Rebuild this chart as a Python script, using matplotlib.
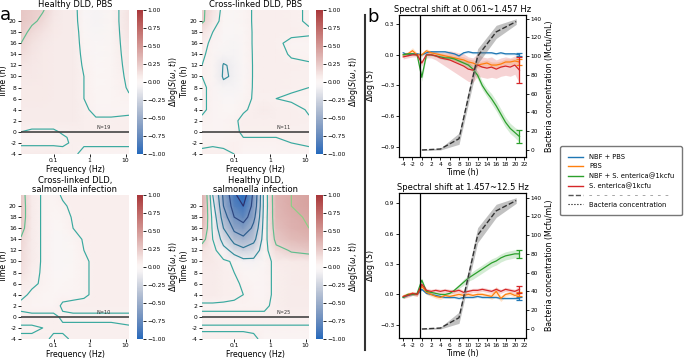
import numpy as np
import matplotlib.pyplot as plt
import seaborn as sns
from matplotlib.lines import Line2D

# ---- panel a: spectral maps (rows = time, cols = frequency) ----
freq_hz = [0.0125, 0.025, 0.05, 0.1, 0.18, 0.35, 0.7, 1.5, 4, 12.5]
time_h = [-4, -2, -1, 0, 2, 4, 6, 8, 10, 12, 14, 16, 18, 20, 22]

healthy_pbs = [
    [.08, .08, .08, .08, .07, .06, .03, .03, .03, .03],
    [.04, .04, .04, .04, .04, .06, .06, .06, .06, .06],
    [.03, .03, .03, .03, .04, .07, .07, .07, .07, .07],
    [.05, .04, .04, .04, .06, .07, .07, .07, .07, .07],
    [.08, .08, .08, .08, .08, .08, .07, .06, .06, .07],
    [.08, .08, .08, .08, .08, .08, .06, .03, .03, .03],
    [.09, .09, .09, .08, .08, .08, .05, .02, .02, .04],
    [.09, .09, .09, .08, .08, .08, .05, .01, .02, .06],
    [.10, .10, .09, .08, .08, .08, .05, .00, .02, .07],
    [.11, .10, .09, .08, .08, .08, .04, -.01, .02, .08],
    [.15, .11, .09, .08, .08, .08, .03, -.02, .02, .09],
    [.20, .13, .10, .08, .08, .08, .02, -.03, .02, .10],
    [.23, .17, .12, .09, .08, .08, .01, -.04, .02, .11],
    [.25, .22, .17, .10, .08, .08, -.01, -.05, .02, .12],
    [.26, .23, .21, .11, .08, .08, -.02, -.05, .02, .12],
]
crosslinked_pbs = [
    [.07, .07, .06, .05, .03, .03, .03, .03, .03, .03],
    [.03, .04, .04, .05, .04, .04, .04, .04, .05, .06],
    [.03, .03, .03, .04, .05, .05, .05, .05, .06, .06],
    [.03, .03, .03, .04, .06, .06, .06, .06, .06, .06],
    [.04, .03, .03, .04, .07, .07, .07, .07, .07, .06],
    [.06, .03, .01, .00, .04, .07, .08, .07, .07, .04],
    [.06, .03, -.02, -.03, .02, .06, .06, .05, .04, .04],
    [.06, .03, -.05, -.05, .00, .06, .07, .07, .06, .05],
    [.05, .02, -.12, -.07, -.01, .06, .07, .07, .06, .06],
    [.05, .02, -.11, -.07, -.01, .06, .07, .07, .07, .06],
    [.06, .02, -.05, -.05, .00, .06, .07, .07, .04, .03],
    [.07, .03, -.03, -.04, .01, .06, .07, .06, .03, .03],
    [.12, .05, -.02, -.03, .01, .06, .07, .07, .07, .06],
    [.22, .10, .00, -.02, .02, .06, .07, .07, .06, .04],
    [.22, .12, .01, -.02, .02, .06, .07, .07, .06, .04],
]
crosslinked_salm = [
    [.06, .06, .06, .04, .04, .06, .06, .06, .06, .06],
    [.04, .04, .05, .06, .06, .06, .06, .06, .06, .06],
    [.06, .06, .06, .06, .05, .05, .05, .05, .05, .04],
    [.06, .06, .06, .06, .04, .04, .04, .04, .04, .04],
    [.04, .03, .03, .03, .06, .07, .07, .07, .07, .07],
    [.06, .04, .02, .01, .03, .03, .04, .07, .07, .07],
    [.09, .06, .04, .00, .00, .02, .04, .07, .07, .07],
    [.14, .07, .04, -.01, -.01, .01, .04, .07, .07, .07],
    [.16, .08, .04, -.02, -.03, .00, .04, .07, .07, .07],
    [.17, .08, .04, -.02, -.03, .01, .05, .07, .07, .07],
    [.19, .08, .04, -.02, -.02, .02, .06, .07, .07, .07],
    [.24, .08, .04, -.01, .00, .05, .07, .07, .07, .07],
    [.26, .08, .04, .00, .02, .06, .07, .07, .07, .07],
    [.26, .08, .04, .02, .04, .07, .07, .07, .07, .07],
    [.25, .08, .04, .03, .06, .07, .07, .07, .07, .07],
]
healthy_salm = [
    [.07, .07, .07, .07, .07, .06, .03, .03, .03, .03],
    [.04, .04, .04, .04, .04, .04, .04, .04, .04, .04],
    [.06, .06, .06, .06, .06, .06, .06, .06, .06, .06],
    [.06, .06, .06, .06, .06, .06, .06, .06, .06, .06],
    [.04, .04, .04, .04, .04, .04, .04, .07, .08, .08],
    [.08, .08, .07, .06, .05, .03, .03, .07, .08, .08],
    [.08, .08, .07, .06, .04, .02, .03, .07, .08, .09],
    [.08, .08, .07, .05, .02, .01, .03, .07, .08, .09],
    [.10, .09, .07, .03, -.05, -.06, .02, .08, .09, .10],
    [.13, .08, -.04, -.18, -.25, -.20, .02, .15, .22, .25],
    [.25, .05, -.18, -.38, -.45, -.35, .01, .25, .32, .35],
    [.33, .02, -.30, -.55, -.62, -.45, .00, .30, .36, .40],
    [.36, .00, -.42, -.70, -.78, -.55, -.01, .33, .38, .42],
    [.38, -.05, -.50, -.82, -.90, -.62, -.02, .34, .40, .44],
    [.38, -.10, -.55, -.88, -.98, -.65, -.02, .35, .40, .44],
]
map_titles = ["Healthy DLD, PBS", "Cross-linked DLD, PBS",
              "Cross-linked DLD,\nsalmonella infection", "Healthy DLD,\nsalmonella infection"]
map_n = ["N=19", "N=11", "N=10", "N=25"]
contour_levels = [-0.9, -0.7, -0.5, -0.3, -0.1, 0.05, 0.2, 0.4]
cbar_ticks = [-1.0, -0.75, -0.5, -0.25, 0.0, 0.25, 0.5, 0.75, 1.0]

# ---- panel b: spectral shift curves ----
t = [-4, -3, -2, -1, 0, 1, 2, 3, 4, 5, 6, 7, 8, 9, 10, 11, 12, 13, 14, 15, 16, 17, 18, 19, 20, 21]
series_names = ["NBF + PBS", "PBS", "NBF + S. enterica@1kcfu", "S. enterica@1kcfu"]
series_colors = ["#1f77b4", "#ff7f0e", "#2ca02c", "#d62728"]

low_mean = [
    [.02, .00, .01, .01, .00, .02, .03, .03, .03, .03, .02, .01, -.01, .02, .03, .02, .02, .02, .02, .02, .01, .02, .01, .01, .01, .00],
    [.00, .01, .04, .00, .00, .04, .02, .01, .00, -.01, -.02, -.03, -.04, -.05, -.07, -.08, -.10, -.09, -.08, -.10, -.10, -.09, -.07, -.07, -.06, -.07],
    [.00, .01, .01, .00, -.22, .00, .00, -.01, -.02, -.03, -.03, -.04, -.06, -.08, -.10, -.14, -.20, -.30, -.37, -.43, -.50, -.58, -.66, -.72, -.76, -.80],
    [-.02, -.01, .00, .00, -.08, .00, .00, -.01, -.03, -.04, -.05, -.07, -.09, -.11, -.14, -.15, -.10, -.12, -.13, -.12, -.14, -.12, -.11, -.12, -.10, -.15],
]
low_err = [
    [.01, .01, .01, .01, .01, .01, .01, .01, .01, .01, .01, .01, .01, .01, .01, .01, .01, .01, .01, .01, .01, .01, .01, .01, .01, .015],
    [.02, .02, .03, .02, .02, .02, .02, .02, .02, .02, .03, .03, .03, .03, .03, .03, .03, .03, .03, .03, .03, .03, .03, .03, .03, .03],
    [.01, .01, .01, .01, .04, .01, .01, .01, .02, .02, .02, .02, .02, .02, .03, .03, .04, .04, .04, .05, .05, .05, .05, .05, .05, .06],
    [.02, .02, .02, .02, .03, .03, .03, .04, .05, .07, .09, .10, .11, .12, .12, .12, .11, .10, .10, .10, .09, .09, .09, .09, .09, .13],
]
high_mean = [
    [-.03, -.01, .00, .00, .05, .01, .00, -.01, -.02, -.03, -.03, -.03, -.04, -.03, -.03, -.03, -.02, -.03, -.03, -.03, -.03, -.04, -.04, -.04, -.04, -.04],
    [-.02, .00, .01, .00, .08, .02, .00, -.02, -.03, -.01, -.02, -.01, .00, -.01, .00, -.01, .00, .00, -.01, -.02, .03, -.04, .00, .01, -.01, .00],
    [-.03, .00, .00, .01, .14, .03, .02, .01, .00, .00, .01, .04, .08, .12, .16, .19, .22, .25, .28, .31, .33, .36, .38, .39, .40, .40],
    [-.02, -.01, .01, .00, .10, .04, .03, .04, .03, .04, .03, .03, .04, .02, .03, .04, .04, .05, .04, .03, .05, .03, .05, .04, .03, .05],
]
high_err = [
    [.01, .01, .01, .01, .01, .01, .01, .01, .01, .01, .01, .01, .01, .01, .01, .01, .01, .01, .01, .01, .01, .01, .01, .01, .01, .015],
    [.02, .02, .02, .02, .02, .02, .02, .02, .02, .02, .02, .02, .02, .02, .02, .02, .02, .02, .02, .03, .05, .03, .02, .02, .02, .02],
    [.01, .01, .01, .01, .02, .01, .01, .01, .01, .01, .01, .02, .02, .03, .03, .04, .04, .04, .04, .04, .04, .04, .04, .04, .04, .04],
    [.02, .02, .02, .02, .02, .02, .02, .02, .02, .02, .02, .02, .02, .02, .02, .02, .02, .02, .02, .02, .02, .02, .02, .02, .02, .035],
]
bact_t = [0, 4, 8, 12, 16, 20.3]
bact_conc = [0, 1, 12, 100, 126, 137]
bact_err = [0.5, 1, 6, 8, 7, 3]

W, H = 685, 358


def px(x0, y0, x1, y1):
    return [x0 / W, 1 - y1 / H, (x1 - x0) / W, (y1 - y0) / H]


fig = plt.figure(figsize=(6.85, 3.58), dpi=100)
vlag = sns.color_palette("vlag", as_cmap=True)
line_cols = ['#2b2f6b', '#2d4680', '#2c5c8d', '#2d7494', '#338c9b', '#3aa99f', '#62bd8e', '#8ccf86']

heat_boxes = [px(21, 10, 129, 154), px(202, 10, 309, 154), px(21, 195, 129, 339), px(202, 195, 309, 339)]
cb_boxes = [px(137, 10, 143, 154), px(316, 10, 323, 154), px(137, 195, 143, 339), px(316, 195, 323, 339)]
grids = [healthy_pbs, crosslinked_pbs, crosslinked_salm, healthy_salm]
tick_fs = 4.3
lab_fs = 5.7

for k in range(4):
    ax = fig.add_axes(heat_boxes[k])
    Z = np.array(grids[k])
    m = ax.pcolormesh(freq_hz, time_h, Z, shading='gouraud', cmap=vlag, vmin=-1, vmax=1)
    ax.contour(freq_hz, time_h, Z, levels=contour_levels, colors=line_cols, linewidths=0.85)
    ax.axhline(0, color='#444444', lw=1.2)
    ax.text(2.5, 0.3, map_n[k], fontsize=3.6, ha='center', va='bottom', color='#333333')
    ax.set_xscale('log')
    ax.set_xlim(0.0125, 12.5)
    ax.set_ylim(-4, 22)
    ax.set_xticks([0.1, 1, 10])
    ax.set_xticklabels(['0.1', '1', '10'])
    ax.minorticks_off()
    yt = list(range(-4, 21, 2))
    ax.set_yticks(yt)
    ax.set_yticklabels([str(v) for v in yt])
    ax.tick_params(labelsize=tick_fs, length=2, width=0.6, pad=1.2)
    for s in ax.spines.values():
        s.set_visible(False)
    ax.set_title(map_titles[k], fontsize=6, pad=2, linespacing=1.05)
    ax.set_xlabel('Frequency (Hz)', fontsize=lab_fs, labelpad=1)
    ax.set_ylabel('Time (h)', fontsize=lab_fs, labelpad=0.3)
    cax = fig.add_axes(cb_boxes[k])
    cb = fig.colorbar(m, cax=cax)
    cb.outline.set_visible(False)
    cb.set_ticks(cbar_ticks)
    cb.set_ticklabels([f'{v:.2f}'.replace('-', '\u2212') for v in cbar_ticks])
    cax.tick_params(labelsize=tick_fs, length=2, width=0.6, pad=1.2)
    cb.set_label(r'$\Delta\log(S(\omega,\,t))$', fontsize=lab_fs, labelpad=0.5)

# ---- panel b ----
b_boxes = [px(399, 15, 526, 157), px(399, 193, 526, 338)]
b_titles = ["Spectral shift at 0.061~1.457 Hz", "Spectral shift at 1.457~12.5 Hz"]
b_means = [low_mean, high_mean]
b_errs = [low_err, high_err]
b_ylims = [(-1.0, 0.39), (-0.43, 1.0)]
b_yticks = [[-0.9, -0.6, -0.3, 0.0, 0.3], [-0.3, 0.0, 0.3, 0.6, 0.9]]
b_rlims = [(-7.5, 144), (-9.6, 145)]
tt = np.array(t)
for k in range(2):
    ax = fig.add_axes(b_boxes[k])
    for i in range(4):
        mu = np.array(b_means[k][i])
        er = np.array(b_errs[k][i])
        ax.fill_between(tt, mu - er, mu + er, color=series_colors[i], alpha=0.2, lw=0)
        ax.plot(tt, mu, color=series_colors[i], lw=0.9)
        ax.errorbar(tt[-1], mu[-1], yerr=er[-1], color=series_colors[i], capsize=2, lw=0.9, capthick=0.9)
    ax.axvline(-0.3, color='k', lw=0.9)
    ax.set_xlim(-4.9, 22.4)
    ax.set_ylim(*b_ylims[k])
    ax.set_yticks(b_yticks[k])
    xt = list(range(-4, 23, 2))
    ax.set_xticks(xt)
    ax.set_xticklabels([str(v) for v in xt])
    ax.tick_params(labelsize=4.2, length=2, width=0.6, pad=1.5)
    ax.set_xlabel('Time (h)', fontsize=lab_fs, labelpad=1)
    ax.set_ylabel(r'$\Delta\log\,(S)$', fontsize=lab_fs, labelpad=2)
    ax.set_title(b_titles[k], fontsize=6, pad=2)
    ax2 = ax.twinx()
    bc = np.array(bact_conc)
    be = np.array(bact_err)
    ax2.fill_between(bact_t, bc - be, bc + be, color='#777777', alpha=0.45, lw=0)
    ax2.plot(bact_t, bc, color='#333333', ls='--', lw=1)
    ax2.set_ylim(*b_rlims[k])
    ax2.set_yticks(range(0, 141, 20))
    ax2.tick_params(labelsize=4.2, length=2, width=0.6, pad=1.5)
    ax2.set_ylabel('Bacteria concentration (Mcfu/mL)', fontsize=lab_fs, labelpad=2)

# legend
handles = [Line2D([], [], color=c, lw=1) for c in series_colors]
handles.append(Line2D([], [], color='#555555', ls='--', lw=1))
handles.append(Line2D([], [], color='k', ls=':', lw=0.8))
labels = series_names + ['\u2013  \u2013  \u2013  \u2013  \u2013  \u2013  \u2013  \u2013  \u2013  \u2013  \u2013', 'Bacteria concentration']
leg = fig.legend(handles, labels, loc='upper left', bbox_to_anchor=(557 / W, 1 - 143 / H),
                 fontsize=4.9, frameon=True, fancybox=True, edgecolor='#555555',
                 borderpad=1.1, labelspacing=0.5, handlelength=2.2, handletextpad=0.9)
leg.get_texts()[4].set_color('#555555')

# panel letters and separator
fig.text(0 / W, 1 - 20 / H, 'a', fontsize=13)
fig.text(367 / W, 1 - 22 / H, 'b', fontsize=13)
fig.add_artist(Line2D([365 / W, 365 / W], [1 - 15 / H, 1 - 350 / H], color='#333333', lw=1.5))

fig.savefig('out.png', dpi=100)
